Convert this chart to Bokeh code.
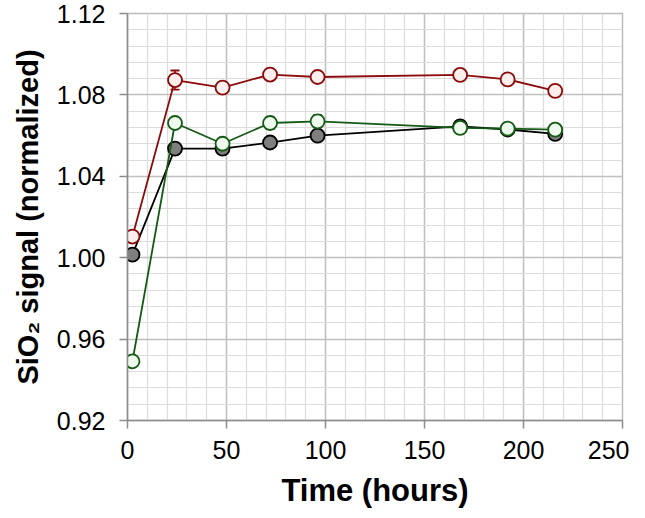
from bokeh.plotting import figure
from bokeh.models import Range1d, SingleIntervalTicker, PrintfTickFormatter, ColumnDataSource
from bokeh.embed import file_html
from bokeh.resources import INLINE

# Data
time_h = [2.5, 24, 48, 72, 96, 168, 192, 216]
red_y = [1.0104, 1.0873, 1.0836, 1.0900, 1.0888, 1.0898, 1.0876, 1.0820]
red_err = [0.001, 0.0047, 0.001, 0.0024, 0.0024, 0.001, 0.001, 0.001]
green_y = [0.9491, 1.0662, 1.0560, 1.0662, 1.0670, 1.0638, 1.0634, 1.0629]
green_err = [0.001, 0.001, 0.0025, 0.003, 0.003, 0.001, 0.001, 0.001]
black_y = [1.0015, 1.0536, 1.0536, 1.0566, 1.0600, 1.0645, 1.0630, 1.0608]
black_err = [0.001, 0.001, 0.0025, 0.001, 0.0025, 0.001, 0.001, 0.001]

x_tick_interval = 50
y_tick_interval = 0.04

p = figure(width=629, height=510, output_backend="svg", toolbar_location=None,
           x_range=Range1d(0, 250), y_range=Range1d(0.92, 1.12),
           min_border_left=127, min_border_top=13, min_border_right=7, min_border_bottom=88)

p.xaxis.ticker = SingleIntervalTicker(interval=x_tick_interval, num_minor_ticks=5)
p.yaxis.ticker = SingleIntervalTicker(interval=y_tick_interval, num_minor_ticks=5)
p.yaxis.formatter = PrintfTickFormatter(format="%.2f")

for ax in (p.xaxis, p.yaxis):
    ax.axis_line_color = "#8c8c8c"
    ax.axis_line_width = 1.5
    ax.major_tick_line_color = "#8c8c8c"
    ax.major_tick_line_width = 1.5
    ax.major_tick_out = 8
    ax.major_tick_in = 0
    ax.minor_tick_line_color = None
    ax.major_label_text_font = "Liberation Sans"
    ax.major_label_text_font_size = "25px"
    ax.major_label_text_color = "#000000"
    ax.axis_label_text_font = "Liberation Sans"
    ax.axis_label_text_font_style = "bold"
    ax.axis_label_text_color = "#000000"

p.xaxis.axis_label_text_font_size = "31px"
p.yaxis.axis_label_text_font_size = "29px"
p.xaxis.axis_label = "Time (hours)"
p.yaxis.axis_label = "SiO\u2082 signal (normalized)"
p.xaxis.major_label_standoff = 12
p.yaxis.major_label_standoff = 14
p.xaxis.axis_label_standoff = 11
p.yaxis.axis_label_standoff = 10

p.grid.grid_line_color = "#c0c0c0"
p.grid.grid_line_width = 1.5
p.grid.minor_grid_line_color = "#dcdcdc"
p.grid.minor_grid_line_width = 1.2
p.outline_line_color = "#bdbdbd"
p.outline_line_width = 1.5
p.background_fill_color = "white"
p.border_fill_color = "white"

series = [
    (black_y, black_err, "#000000", "#7f7f7f"),
    (green_y, green_err, "#145a14", "#eefaee"),
    (red_y, red_err, "#8b0a0a", "#fdeeee"),
]

for ys, errs, lc, fc in series:
    src = ColumnDataSource(dict(
        x=time_h, y=ys,
        lo=[v - e for v, e in zip(ys, errs)],
        hi=[v + e for v, e in zip(ys, errs)],
    ))
    p.line("x", "y", source=src, line_color=lc, line_width=1.8)
    p.segment(x0="x", y0="lo", x1="x", y1="hi", source=src, line_color=lc, line_width=1.5)
    p.scatter("x", "lo", source=src, marker="dash", size=9, line_color=lc, line_width=1.8)
    p.scatter("x", "hi", source=src, marker="dash", size=9, line_color=lc, line_width=1.8)
    p.scatter("x", "y", source=src, marker="circle", size=14, line_color=lc,
              fill_color=fc, line_width=1.8)

open("out.html", "w").write(file_html(p, INLINE))
